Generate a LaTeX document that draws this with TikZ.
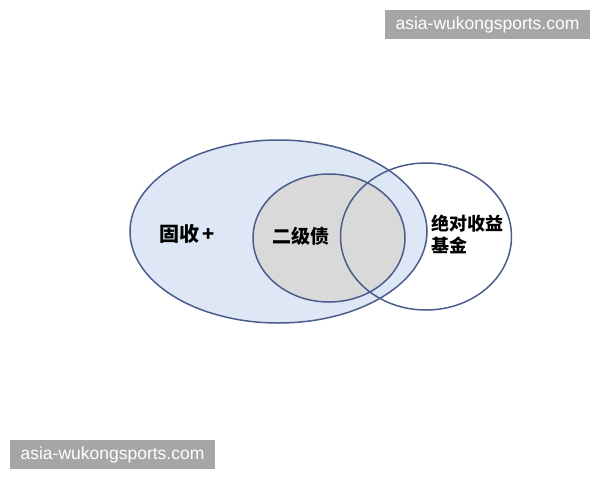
\documentclass[tikz,border=0pt]{standalone}
\usepackage{fontspec}
\setmainfont{Liberation Sans}
\newfontfamily\cjk{Noto Sans CJK SC}
\definecolor{ringline}{HTML}{4B5D8B}
\definecolor{bluefill}{HTML}{DDE7F5}
\definecolor{grayfill}{HTML}{D9D9D9}
\definecolor{markgray}{HTML}{A6A6A6}
\tikzset{
  ring/.style={draw=ringline, line width=1.5pt},
  label/.style={font=\cjk\bfseries, text=black, inner sep=0pt},
  watermark/.style={fill=markgray, text=white, minimum width=205pt, minimum height=29pt, inner sep=0pt, font=\fontsize{17.5}{19}\selectfont}
}
\begin{document}
\begin{tikzpicture}[x=1pt, y=-1pt]
\useasboundingbox (0,0) rectangle (600,480);
% fills first, outlines on top
\fill[bluefill] (278.5,231.5) ellipse [x radius=148.5, y radius=91.5];
\fill[grayfill] (329,238) ellipse [x radius=76, y radius=64];
\draw[ring] (278.5,231.5) ellipse [x radius=148.5, y radius=91.5];
\draw[ring] (329,238) ellipse [x radius=76, y radius=64];
\draw[ring] (426,236.5) ellipse [x radius=85.5, y radius=73.5];
% labels
\node[label, font=\cjk\bfseries\fontsize{20}{22}\selectfont] (fixed) at (187,234) {固收\kern3pt+};
\node[label, font=\cjk\bfseries\fontsize{19}{21}\selectfont] (bond) at (301,236) {二级债};
\node[label, font=\cjk\bfseries\fontsize{18}{22}\selectfont, align=left, anchor=west] (absret) at (431,234.5) {绝对收益\\基金};
% watermarks
\node[watermark] (marktop) at (487.5,24.5) {asia-wukongsports.com};
\node[watermark] (markbot) at (112.5,454.5) {asia-wukongsports.com};
\end{tikzpicture}
\end{document}
